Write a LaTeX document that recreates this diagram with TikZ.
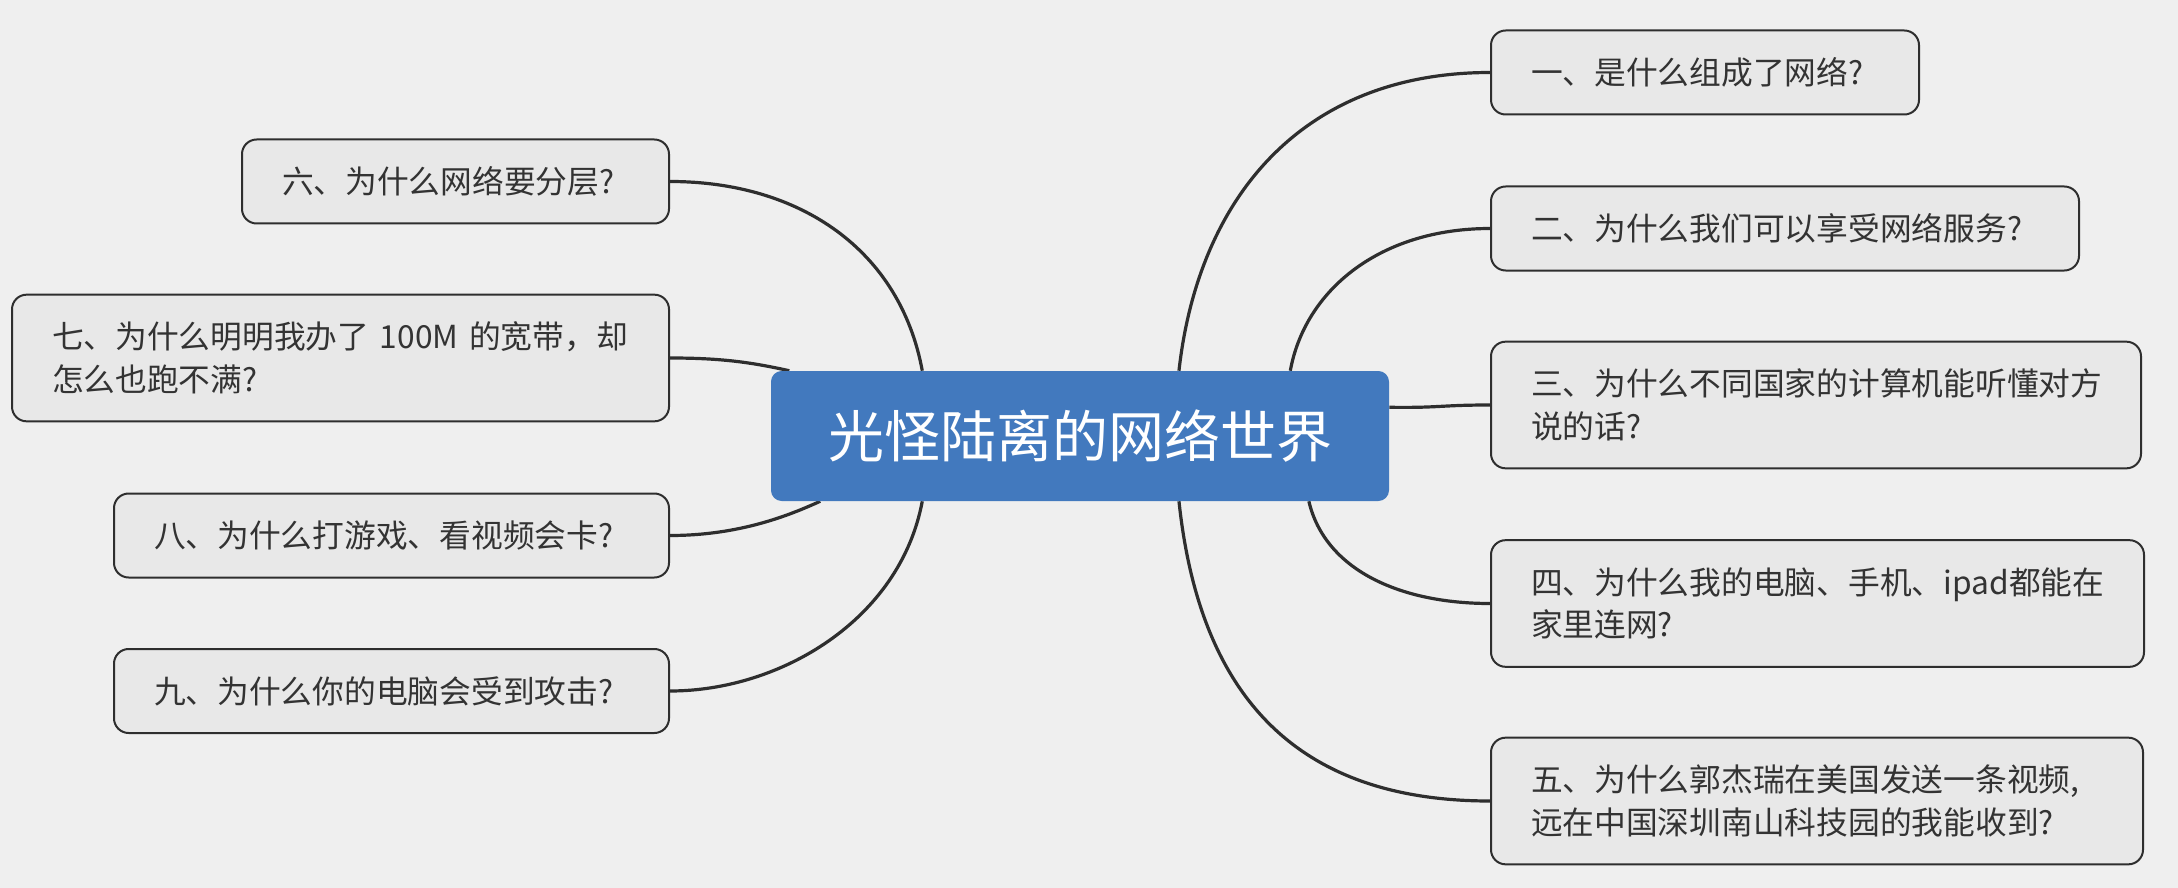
\documentclass[tikz,border=0pt]{standalone}
\usepackage{fontspec}
\setmainfont{Noto Sans CJK SC}
\usetikzlibrary{calc}
\definecolor{bgc}{HTML}{EFEFEF}
\definecolor{boxc}{HTML}{E8E8E8}
\definecolor{linec}{HTML}{2E2E2E}
\definecolor{txtc}{HTML}{333333}
\definecolor{cblue}{HTML}{4279BE}
\pgfdeclarelayer{edges}
\pgfsetlayers{edges,main}
\tikzset{
  qbox/.style={draw=linec, line width=1.5pt, fill=boxc, rounded corners=11pt,
    inner xsep=30pt, inner ysep=0pt, align=left, text=txtc,
    font=\fontsize{23.8}{32}\selectfont},
  onebox/.style={qbox, minimum height=63pt},
  twobox/.style={qbox, minimum height=95pt},
  centerbox/.style={fill=cblue, rounded corners=8pt, text=white,
    minimum width=463.5pt, minimum height=97.5pt, inner sep=0pt,
    font=\fontsize{42}{50}\selectfont},
  conn/.style={draw=linec, line width=2.4pt}
}
\begin{document}
\begin{tikzpicture}[x=0.75pt,y=-0.75pt]
\useasboundingbox (0,0) rectangle (2178,888);
\begin{pgfonlayer}{edges}
\fill[bgc] (0,0) rectangle (2178,888);
\end{pgfonlayer}

\node[centerbox] (c) at (1080,436) {光怪陆离的网络世界};

\node[onebox, anchor=west, text width=261pt] (n1) at (1490,72.5) {一、是什么组成了网络?};
\node[onebox, anchor=west, text width=381pt] (n2) at (1490,228.5) {二、为什么我们可以享受网络服务?};
\node[twobox, anchor=west, text width=427.5pt] (n3) at (1490,405) {三、为什么不同国家的计算机能听懂对方\\说的话?};
\node[twobox, anchor=west, text width=429.75pt] (n4) at (1490,603.5) {四、为什么我的电脑、手机、ipad都能在\\家里连网?};
\node[twobox, anchor=west, text width=429pt] (n5) at (1490,801) {五、为什么郭杰瑞在美国发送一条视频,\\远在中国深圳南山科技园的我能收到?};

\node[onebox, anchor=east, text width=260.25pt] (n6) at (670,181.5) {六、为什么网络要分层?};
\node[twobox, anchor=east, text width=432.75pt] (n7) at (670,358) {七、为什么明明我办了 100M 的宽带，却\\怎么也跑不满?};
\node[onebox, anchor=east, text width=356.25pt] (n8) at (670,535.5) {八、为什么打游戏、看视频会卡?};
\node[onebox, anchor=east, text width=356.25pt] (n9) at (670,691) {九、为什么你的电脑会受到攻击?};

\begin{pgfonlayer}{edges}
\coordinate (s1) at ($(c.north west)!0.66!(c.north east)$);
\coordinate (s2) at ($(c.north west)!0.84!(c.north east)$);
\coordinate (s3) at ($(c.north east)!0.28!(c.south east)$);
\coordinate (s4) at ($(c.south west)!0.87!(c.south east)$);
\coordinate (s5) at ($(c.south west)!0.66!(c.south east)$);
\coordinate (s6) at ($(c.north west)!0.245!(c.north east)$);
\coordinate (s7) at ($(c.north west)!0.03!(c.north east)$);
\coordinate (s8) at ($(c.south west)!0.08!(c.south east)$);
\coordinate (s9) at ($(c.south west)!0.245!(c.south east)$);
\draw[conn] (s1) .. controls (1198,200) and (1300,72.5) .. (n1.west);
\draw[conn] (s2) .. controls (1305,290) and (1380,228.5) .. (n2.west);
\draw[conn] (s3) .. controls (1440,408) and (1440,405) .. (n3.west);
\draw[conn] (s4) .. controls (1325,570) and (1400,603.5) .. (n4.west);
\draw[conn] (s5) .. controls (1200,700) and (1300,801) .. (n5.west);
\draw[conn] (s6) .. controls (900,250) and (800,181.5) .. (n6.east);
\draw[conn] (s7) .. controls (750,362) and (720,358) .. (n7.east);
\draw[conn] (s8) .. controls (790,515) and (740,535.5) .. (n8.east);
\draw[conn] (s9) .. controls (900,620) and (780,691) .. (n9.east);
\end{pgfonlayer}
\end{tikzpicture}
\end{document}
